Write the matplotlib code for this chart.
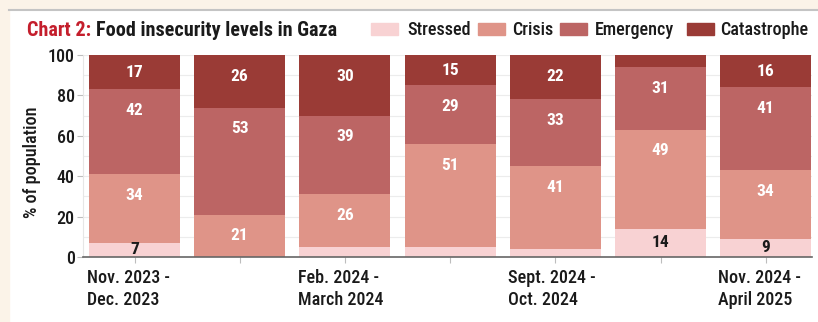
import matplotlib
matplotlib.use("Agg")
import matplotlib.pyplot as plt
from matplotlib import font_manager as fm
from matplotlib.patches import Rectangle
from matplotlib.lines import Line2D
from matplotlib.transforms import blended_transform_factory
import numpy as np

periods = ["Nov. 2023 -\nDec. 2023", "", "Feb. 2024 -\nMarch 2024", "",
           "Sept. 2024 -\nOct. 2024", "", "Nov. 2024 -\nApril 2025"]
categories = ["Stressed", "Crisis", "Emergency", "Catastrophe"]
stressed = [7, 0, 5, 5, 4, 14, 9]
crisis = [34, 21, 26, 51, 41, 49, 34]
emergency = [42, 53, 39, 29, 33, 31, 41]
catastrophe = [17, 26, 30, 15, 22, 6, 16]
series = [stressed, crisis, emergency, catastrophe]
colors = ["#f8d2d3", "#df9488", "#bc6564", "#9a3b36"]
label_colors = ["#1a1a1a", "white", "white", "white"]
show_labels = [
    [True, False, False, False, False, True, True],
    [True, True, True, True, True, True, True],
    [True, True, True, True, True, True, True],
    [True, True, True, True, True, False, True],
]

# pick a condensed font if one is installed
fam, stretch = None, "normal"
names = {(f.name, f.stretch) for f in fm.fontManager.ttflist}
for pref in ["Liberation Sans Narrow", "Roboto Condensed", "Open Sans Condensed",
             "Noto Sans Condensed", "Fira Sans Condensed"]:
    if any(n == pref for n, _ in names):
        fam = pref
        break
if fam is None:
    for pref in ["Noto Sans", "Open Sans", "DejaVu Sans", "Roboto"]:
        if (pref, "condensed") in names or (pref, "semi-condensed") in names:
            fam = pref
            stretch = "condensed" if (pref, "condensed") in names else "semi-condensed"
            break
if fam is None:
    for n, s in sorted(names):
        if "Condensed" in n or "Narrow" in n:
            fam = n
            break
condensed = fam is not None
if fam is None:
    fam = "Roboto"
scale = 1.0 if condensed else 0.86

plt.rcParams["font.family"] = [fam, "DejaVu Sans"]
plt.rcParams["font.stretch"] = stretch
plt.rcParams["font.weight"] = "medium"
plt.rcParams["axes.labelweight"] = "medium"

W, H = 818, 322
fig = plt.figure(figsize=(W / 100, H / 100), dpi=100, facecolor="white")

cream = "#fbf3e8"
fig.patches.append(Rectangle((0, 0), 9 / W, 1, transform=fig.transFigure, color=cream, zorder=0))
fig.patches.append(Rectangle((0, 1 - 8 / H), 1, 8 / H, transform=fig.transFigure, color=cream, zorder=0))
fig.lines.append(Line2D([9 / W, 1], [1 - 10 / H, 1 - 10 / H], transform=fig.transFigure,
                        color="#c4c4c4", lw=1.5))

ax = fig.add_axes([83 / W, 1 - 257 / H, (812 - 83) / W, (257 - 55) / H])
ax.set_facecolor("white")

FS = 13 * scale
TXT = "#1a1a1a"
x = np.arange(len(stressed))
width = 0.865
bottom = np.zeros(len(x))
for s, vals in enumerate(series):
    vals = np.array(vals, dtype=float)
    ax.bar(x, vals, width, bottom=bottom, color=colors[s], edgecolor="none", zorder=2)
    for i, v in enumerate(vals):
        if show_labels[s][i] and v > 0:
            top = bottom[i] + v
            center = bottom[i] + v / 2
            ypos = max(center, top - 10.5)
            ax.text(x[i], ypos, f"{int(v)}", ha="center", va="center",
                    color=label_colors[s], fontsize=12.5 * scale, fontweight="bold", zorder=3)
    bottom += vals

ax.set_xlim(-0.49, 6.44)
ax.set_ylim(0, 100)
ax.set_yticks([0, 20, 40, 60, 80, 100])
ax.set_yticks(np.arange(0, 101, 10), minor=True)
ax.grid(axis="y", which="both", color="#ececec", lw=0.8, zorder=0)
ax.tick_params(axis="y", which="minor", length=0)
ax.tick_params(axis="y", which="major", length=4, color="#bdbdbd", labelsize=FS,
               labelcolor=TXT, pad=2)
ax.set_xticks(x)
ax.set_xticklabels([""] * len(x))
ax.tick_params(axis="x", length=4, color="#bdbdbd")

trans = blended_transform_factory(ax.transData, ax.transAxes)
for i, lab in enumerate(periods):
    if lab:
        ax.text(i - 0.45, -0.06, lab, transform=trans, ha="left", va="top",
                fontsize=FS, color=TXT, linespacing=1.3)

for side in ["top", "right"]:
    ax.spines[side].set_visible(False)
ax.spines["left"].set_color("#e6e6e6")
ax.spines["bottom"].set_color("#666666")
ax.spines["bottom"].set_linewidth(1.2)
ax.spines["bottom"].set_zorder(4)

ax.set_ylabel("% of population", fontsize=FS, color=TXT, fontweight="medium")
ax.yaxis.set_label_coords(-0.057, 0.47)

ty = 1 - 30 / H
t1 = fig.text(27 / W, ty, "Chart 2:", color="#c41e2c", fontsize=14.5 * scale, fontweight="bold",
              va="center", ha="left")
fig.canvas.draw()
bb = t1.get_window_extent()
fig.text(bb.x1 / W + 5 / W, ty, "Food insecurity levels in Gaza", color=TXT,
         fontsize=14.5 * scale, fontweight="bold", va="center", ha="left")

leg_x = [371, 478, 560, 687]
leg_dx = [36, 34, 35, 33]
for c, lx, dx, name in zip(colors, leg_x, leg_dx, categories):
    fig.patches.append(Rectangle((lx / W, 1 - 35 / H), 27 / W, 12 / H,
                                 transform=fig.transFigure, color=c))
    fig.text((lx + dx) / W, ty, name, fontsize=FS, color=TXT, va="center", ha="left")

fig.savefig("out.png", dpi=100, facecolor=fig.get_facecolor())
